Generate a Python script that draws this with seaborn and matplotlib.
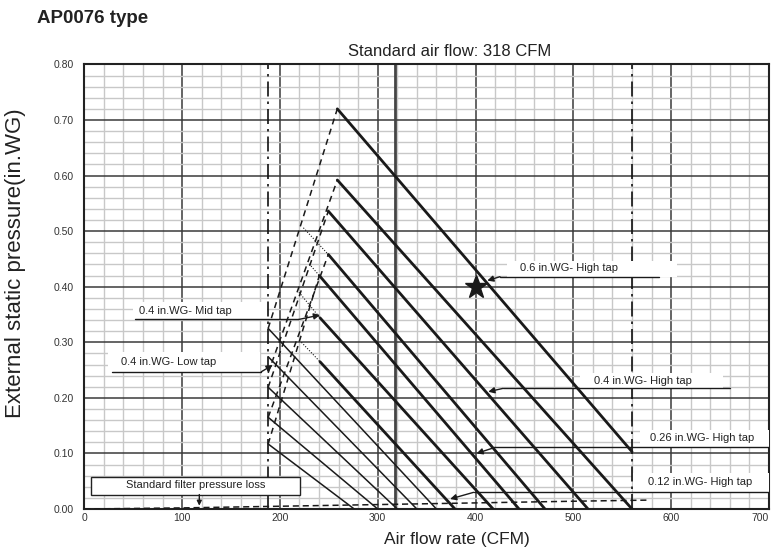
import numpy as np
import pandas as pd
import matplotlib
matplotlib.use("Agg")
import matplotlib.pyplot as plt
import seaborn as sns
from matplotlib.ticker import MultipleLocator, FormatStrFormatter
from matplotlib.patches import Rectangle

sns.set_theme(style="white")
plt.rcParams["font.family"] = ["Liberation Sans", "DejaVu Sans"]

# ---------------- data ----------------
title = "AP0076 type"
std_flow = 318
x_ticks = [0, 100, 200, 300, 400, 500, 600, 700]
y_ticks = [0.0, 0.1, 0.2, 0.3, 0.4, 0.5, 0.6, 0.7, 0.8]
min_flow = 188
max_flow = 560

# thick (high tap) fan lines: start point -> end point
thick_x0 = [258.7, 258.7, 249.5, 249.5, 240.3, 241.0, 241.0]
thick_y0 = [0.720, 0.592, 0.536, 0.458, 0.420, 0.344, 0.265]
thick_x1 = [560.0, 560.0, 515.0, 471.0, 444.5, 418.0, 379.0]
thick_y1 = [0.103, 0.000, 0.000, 0.000, 0.000, 0.000, 0.000]

# thin (low tap) fan lines starting at minimum flow
thin_x0 = [188, 188, 188, 188, 188]
thin_y0 = [0.325, 0.274, 0.219, 0.165, 0.117]
thin_x1 = [360, 340, 320, 300, 276]
thin_y1 = [0.0, 0.0, 0.0, 0.0, 0.0]

# dashed limit lines
dash_x0 = [188, 188, 188, 188, 188]
dash_y0 = [0.325, 0.245, 0.219, 0.165, 0.117]
dash_x1 = [258.7, 258.7, 249.5, 249.5, 240.3]
dash_y1 = [0.720, 0.592, 0.536, 0.458, 0.420]

# dotted extensions
dot_x0 = [224.0, 230.0, 219.5, 222.0]
dot_y0 = [0.506, 0.441, 0.390, 0.300]
dot_x1 = [249.5, 240.3, 241.0, 241.0]
dot_y1 = [0.458, 0.420, 0.344, 0.265]

# standard filter pressure loss
filt_x = [0, 100, 200, 300, 400, 500, 575]
filt_y = [0.0, 0.002, 0.005, 0.008, 0.011, 0.014, 0.016]

star_x = [400]
star_y = [0.40]

# annotation labels
lab_text = ["0.6 in.WG- High tap", "0.4 in.WG- High tap", "0.26 in.WG- High tap",
            "0.12 in.WG- High tap", "0.4 in.WG- Mid tap", "0.4 in.WG- Low tap"]
lab_tx = [495.6, 570.8, 632.0, 630.0, 103.0, 86.0]
lab_ty = [0.433, 0.231, 0.127, 0.048, 0.357, 0.265]
box_x0 = [432, 507, 568, 561, 50, 24]
box_x1 = [606, 653, 701, 701, 186.5, 180]
box_y0 = [0.418, 0.217, 0.111, 0.030, 0.341, 0.247]
box_y1 = [0.447, 0.245, 0.142, 0.065, 0.373, 0.283]
line_x0 = [425, 428, 420, 398, 52, 28]
line_x1 = [588, 660, 701, 701, 219, 181]
arrow_side = ["left", "left", "left", "left", "right", "right"]
tip_x = [412, 413, 401, 374, 241, 192.6]
tip_y = [0.411, 0.211, 0.100, 0.018, 0.349, 0.259]

# ---------------- figure ----------------
fig = plt.figure(figsize=(7.71, 5.56), dpi=100)
ax = fig.add_axes([0.1093, 0.0845, 0.8881, 0.7997])

ax.set_xlim(0, 700)
ax.set_ylim(0, 0.8)
ax.xaxis.set_minor_locator(MultipleLocator(20))
ax.yaxis.set_minor_locator(MultipleLocator(0.02))
ax.set_xticks(x_ticks)
ax.set_yticks(y_ticks)
ax.yaxis.set_major_formatter(FormatStrFormatter("%.2f"))
ax.grid(which="minor", color="#c8c8c8", lw=1.0)
ax.grid(which="major", color="#3a3a3a", lw=1.1)
ax.set_axisbelow(True)
ax.tick_params(axis="both", which="major", labelsize=7.5, colors="#333333", length=4, width=1)
ax.tick_params(axis="x", which="major", length=0, pad=3)
ax.tick_params(which="minor", length=0)
for lbl in ax.get_xticklabels():
    if lbl.get_text() == "700":
        lbl.set_horizontalalignment("right")
for s in ax.spines.values():
    s.set_color("#222222")
    s.set_linewidth(1.5)

def seg(x, y, **kw):
    df = pd.DataFrame({"cfm": x, "p": y})
    sns.lineplot(data=df, x="cfm", y="p", ax=ax, sort=False, estimator=None, legend=False, **kw)

# verticals
ax.axvline(std_flow, color="#444444", lw=2.0, zorder=2)
for v in [min_flow, max_flow]:
    ax.axvline(v, color="#111111", lw=1.2, dashes=(9, 3, 1.5, 3), zorder=2)

for i in range(len(thick_x0)):
    seg([thick_x0[i], thick_x1[i]], [thick_y0[i], thick_y1[i]], color="#1a1a1a", lw=2.0, zorder=4)
for i in range(len(thin_x0)):
    seg([thin_x0[i], thin_x1[i]], [thin_y0[i], thin_y1[i]], color="#1a1a1a", lw=1.1, zorder=4)
for i in range(len(dash_x0)):
    seg([dash_x0[i], dash_x1[i]], [dash_y0[i], dash_y1[i]], color="#1a1a1a", lw=1.1,
        dashes=(4, 3), zorder=4)
for i in range(len(dot_x0)):
    seg([dot_x0[i], dot_x1[i]], [dot_y0[i], dot_y1[i]], color="#1a1a1a", lw=0.8,
        dashes=(1, 1.5), zorder=4)
seg(filt_x, filt_y, color="#1a1a1a", lw=1.1, dashes=(4, 2.5), zorder=4)

ax.plot(star_x, star_y, marker="*", ms=17, color="#1a1a1a", ls="none", zorder=6)

# labels
for i in range(len(lab_text)):
    ax.add_patch(Rectangle((box_x0[i], box_y0[i]), box_x1[i] - box_x0[i], box_y1[i] - box_y0[i],
                           facecolor="white", edgecolor="none", zorder=5))
    ax.plot([line_x0[i], line_x1[i]], [box_y0[i], box_y0[i]], color="#1a1a1a", lw=1.0, zorder=6)
    tail_x = line_x0[i] if arrow_side[i] == "left" else line_x1[i]
    ax.annotate("", xy=(tip_x[i], tip_y[i]), xytext=(tail_x, box_y0[i]),
                arrowprops=dict(arrowstyle="-|>", color="#1a1a1a", lw=1.0,
                                mutation_scale=9, shrinkA=0, shrinkB=0), zorder=6)
    ax.text(lab_tx[i], lab_ty[i], lab_text[i], ha="center", va="center", fontsize=8,
            color="#222222", zorder=7)

# standard filter box
ax.add_patch(Rectangle((6.5, 0.026), 214, 0.032, facecolor="white", edgecolor="#222222",
                       lw=1.0, zorder=5))
ax.text(113.5, 0.043, "Standard filter pressure loss", ha="center", va="center",
        fontsize=8, color="#222222", zorder=7)
ax.annotate("", xy=(117.6, 0.006), xytext=(117.6, 0.026),
            arrowprops=dict(arrowstyle="-|>", color="#1a1a1a", lw=1.0, mutation_scale=7,
                            shrinkA=0, shrinkB=0), zorder=6)

ax.set_xlabel("Air flow rate (CFM)", fontsize=12.5, color="#222222")
ax.xaxis.set_label_coords(0.544, -0.052)
ax.set_ylabel("External static pressure(in.WG)", fontsize=16, color="#222222")
ax.yaxis.set_label_coords(-0.085, 0.553)
ax.set_title("Standard air flow: 318 CFM", fontsize=12, color="#222222", pad=6, x=0.534)
fig.text(0.048, 0.967, title, fontsize=13.5, fontweight="bold", ha="left", va="center", color="#222222")

fig.savefig("out.png", dpi=100)
